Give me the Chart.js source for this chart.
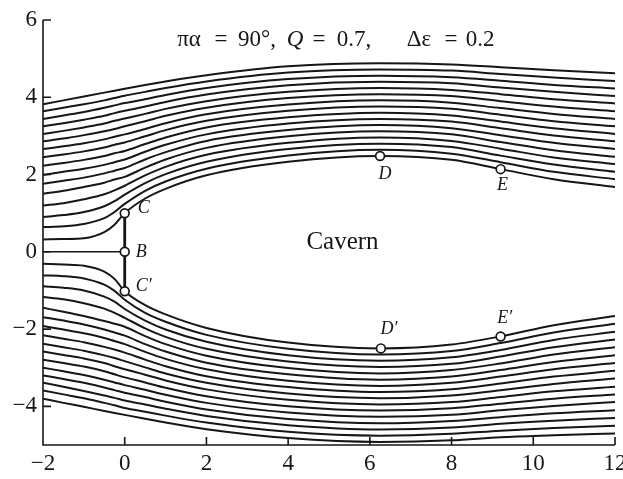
<!DOCTYPE html>
<html>
<head>
<meta charset="utf-8">
<script src="https://cdn.jsdelivr.net/npm/chart.js@4.4.1/dist/chart.umd.min.js"></script>
<style>
  html, body { margin: 0; padding: 0; background: #fff; }
  #wrap { width: 623px; height: 479px; position: relative; }
</style>
</head>
<body>
<div id="wrap"><canvas id="flowChart"></canvas></div>
<script>
// stations along the flow where each streamline's height was taken
const stations = [-2, -1.5, -1, -0.5, -0.25, 0, 0.5, 1, 2, 4, 6.25, 8, 9.2, 10.5, 12];

// heights of the 16 upper streamlines at each station (cavern boundary first)
const upperCuts = [
  [0.32, 0.64, 0.90, 1.20, 1.50, 1.76, 1.99, 2.23, 2.45, 2.66, 2.86, 3.05, 3.25, 3.44, 3.64, 3.82],
  [0.33, 0.66, 0.95, 1.26, 1.58, 1.84, 2.07, 2.30, 2.52, 2.73, 2.93, 3.13, 3.33, 3.53, 3.73, 3.92],
  [0.35, 0.72, 1.03, 1.36, 1.68, 1.92, 2.15, 2.38, 2.60, 2.81, 3.02, 3.22, 3.42, 3.62, 3.82, 4.02],
  [0.51, 0.87, 1.18, 1.49, 1.79, 2.03, 2.25, 2.48, 2.70, 2.91, 3.12, 3.32, 3.52, 3.73, 3.92, 4.12],
  [0.70, 1.03, 1.31, 1.59, 1.87, 2.10, 2.32, 2.55, 2.77, 2.98, 3.18, 3.39, 3.59, 3.79, 3.98, 4.17],
  [1.00, 1.24, 1.48, 1.71, 1.94, 2.17, 2.39, 2.61, 2.83, 3.04, 3.25, 3.45, 3.65, 3.85, 4.04, 4.22],
  [1.38, 1.58, 1.78, 1.98, 2.18, 2.39, 2.59, 2.79, 2.99, 3.18, 3.38, 3.57, 3.76, 3.95, 4.14, 4.32],
  [1.63, 1.82, 2.01, 2.20, 2.39, 2.58, 2.77, 2.96, 3.15, 3.33, 3.52, 3.70, 3.88, 4.06, 4.24, 4.41],
  [1.98, 2.15, 2.33, 2.51, 2.69, 2.87, 3.04, 3.22, 3.39, 3.56, 3.73, 3.90, 4.07, 4.24, 4.41, 4.57],
  [2.33, 2.49, 2.66, 2.82, 2.99, 3.15, 3.32, 3.48, 3.65, 3.81, 3.98, 4.14, 4.31, 4.47, 4.64, 4.80],
  [2.48, 2.64, 2.80, 2.96, 3.12, 3.28, 3.44, 3.60, 3.76, 3.92, 4.08, 4.24, 4.40, 4.56, 4.72, 4.88],
  [2.38, 2.54, 2.71, 2.87, 3.04, 3.20, 3.37, 3.53, 3.70, 3.86, 4.03, 4.19, 4.36, 4.52, 4.69, 4.85],
  [2.14, 2.32, 2.49, 2.67, 2.84, 3.02, 3.20, 3.37, 3.55, 3.72, 3.90, 4.08, 4.25, 4.43, 4.60, 4.78],
  [1.88, 2.07, 2.26, 2.44, 2.63, 2.82, 3.01, 3.20, 3.38, 3.57, 3.76, 3.95, 4.14, 4.32, 4.51, 4.70],
  [1.68, 1.88, 2.07, 2.27, 2.46, 2.66, 2.86, 3.05, 3.25, 3.44, 3.64, 3.84, 4.03, 4.23, 4.42, 4.62]
];

// heights of the 16 lower streamlines at each station (cavern boundary first)
const lowerCuts = [
  [-0.31, -0.61, -0.89, -1.17, -1.45, -1.69, -1.92, -2.16, -2.38, -2.58, -2.79, -3.00, -3.20, -3.39, -3.59, -3.80],
  [-0.33, -0.63, -0.93, -1.23, -1.55, -1.78, -2.01, -2.25, -2.47, -2.67, -2.88, -3.09, -3.29, -3.49, -3.69, -3.91],
  [-0.36, -0.69, -1.00, -1.33, -1.66, -1.88, -2.11, -2.34, -2.56, -2.76, -2.97, -3.19, -3.39, -3.60, -3.79, -4.01],
  [-0.51, -0.85, -1.16, -1.47, -1.79, -2.01, -2.23, -2.46, -2.68, -2.88, -3.09, -3.31, -3.51, -3.72, -3.91, -4.12],
  [-0.70, -1.01, -1.29, -1.58, -1.86, -2.09, -2.31, -2.53, -2.75, -2.96, -3.17, -3.38, -3.58, -3.78, -3.97, -4.17],
  [-1.02, -1.24, -1.48, -1.71, -1.94, -2.17, -2.39, -2.61, -2.83, -3.04, -3.25, -3.45, -3.65, -3.85, -4.04, -4.22],
  [-1.38, -1.58, -1.78, -1.98, -2.18, -2.39, -2.59, -2.79, -2.99, -3.18, -3.38, -3.57, -3.76, -3.95, -4.14, -4.32],
  [-1.62, -1.81, -2.01, -2.20, -2.39, -2.58, -2.77, -2.96, -3.15, -3.33, -3.52, -3.70, -3.88, -4.06, -4.24, -4.42],
  [-1.97, -2.15, -2.33, -2.51, -2.69, -2.87, -3.04, -3.22, -3.39, -3.56, -3.74, -3.91, -4.08, -4.25, -4.42, -4.59],
  [-2.35, -2.51, -2.68, -2.84, -3.01, -3.17, -3.34, -3.50, -3.67, -3.83, -4.00, -4.16, -4.33, -4.49, -4.66, -4.82],
  [-2.50, -2.66, -2.82, -2.98, -3.15, -3.31, -3.47, -3.63, -3.79, -3.95, -4.11, -4.27, -4.44, -4.60, -4.76, -4.92],
  [-2.40, -2.57, -2.73, -2.90, -3.06, -3.23, -3.39, -3.56, -3.72, -3.89, -4.05, -4.22, -4.38, -4.55, -4.71, -4.88],
  [-2.19, -2.36, -2.54, -2.71, -2.89, -3.06, -3.23, -3.41, -3.58, -3.76, -3.93, -4.10, -4.28, -4.45, -4.63, -4.80],
  [-1.90, -2.09, -2.28, -2.47, -2.66, -2.85, -3.04, -3.23, -3.42, -3.61, -3.80, -3.99, -4.18, -4.37, -4.56, -4.75],
  [-1.66, -1.86, -2.07, -2.27, -2.47, -2.68, -2.88, -3.08, -3.28, -3.49, -3.69, -3.89, -4.10, -4.30, -4.50, -4.70]
];

// dividing streamline up to B, and the plate C-C'
const axisLineX = [-2, 0];
const axisLineY = [0, 0];
const plateX = [0, 0];
const plateY = [1, -1];

// marked points
const pointNames = ["C", "B", "C\u2032", "D", "E", "D\u2032", "E\u2032"];
const pointX = [0, 0, 0, 6.25, 9.2, 6.27, 9.2];
const pointY = [1.0, 0, -1.02, 2.48, 2.14, -2.5, -2.19];

const xTicks = [-2, 0, 2, 4, 6, 8, 10, 12];
const yTicks = [-4, -2, 0, 2, 4, 6];

const INK = "#161616";
const SERIF = "'Liberation Serif', 'DejaVu Serif', serif";

function streamline(cuts, i) {
  return stations.map((x, k) => ({ x: x, y: cuts[k][i] }));
}

const lineStyle = {
  showLine: true,
  pointRadius: 0,
  borderColor: INK,
  borderWidth: 2,
  cubicInterpolationMode: "monotone",
  fill: false,
};

const datasets = [];

// points go first so they are drawn on top of the lines
datasets.push({
  data: pointX.map((x, i) => ({ x: x, y: pointY[i] })),
  showLine: false,
  pointRadius: 4.4,
  pointBackgroundColor: "#fff",
  pointBorderColor: INK,
  pointBorderWidth: 1.7,
});

datasets.push({
  data: plateX.map((x, i) => ({ x: x, y: plateY[i] })),
  showLine: true,
  pointRadius: 0,
  borderColor: INK,
  borderWidth: 2.8,
});

datasets.push({
  data: axisLineX.map((x, i) => ({ x: x, y: axisLineY[i] })),
  showLine: true,
  pointRadius: 0,
  borderColor: INK,
  borderWidth: 1.5,
});

for (let i = 0; i < 16; i++) {
  datasets.push(Object.assign({ data: streamline(upperCuts, i) }, lineStyle));
  datasets.push(Object.assign({ data: streamline(lowerCuts, i) }, lineStyle));
}

// axes with inward ticks, parameter line and point labels
const decorations = {
  id: "decorations",
  afterDatasetsDraw(chart) {
    const { ctx, chartArea, scales } = chart;
    const xs = scales.x;
    const ys = scales.y;
    const tick = 8;

    ctx.save();
    ctx.strokeStyle = INK;
    ctx.lineWidth = 1.6;
    ctx.beginPath();
    ctx.moveTo(chartArea.left, chartArea.top);
    ctx.lineTo(chartArea.left, chartArea.bottom);
    ctx.lineTo(chartArea.right, chartArea.bottom);
    xTicks.forEach((v) => {
      const px = xs.getPixelForValue(v);
      ctx.moveTo(px, chartArea.bottom);
      ctx.lineTo(px, chartArea.bottom - tick);
    });
    yTicks.forEach((v) => {
      const py = ys.getPixelForValue(v);
      ctx.moveTo(chartArea.left, py);
      ctx.lineTo(chartArea.left + tick, py);
    });
    ctx.stroke();

    ctx.fillStyle = INK;
    ctx.textBaseline = "middle";

    // point labels
    const offsets = [[13, -5], [11, 0], [11, -5], [5, 18], [2, 16], [8, -19], [4, -18]];
    const aligns = ["left", "left", "left", "center", "center", "center", "center"];
    ctx.font = "italic 18px " + SERIF;
    pointNames.forEach((name, i) => {
      const px = xs.getPixelForValue(pointX[i]);
      const py = ys.getPixelForValue(pointY[i]);
      ctx.textAlign = aligns[i];
      ctx.fillText(name, px + offsets[i][0], py + offsets[i][1]);
    });

    // cavern label
    ctx.font = "25px " + SERIF;
    ctx.textAlign = "center";
    ctx.fillText("Cavern", xs.getPixelForValue(5.33), ys.getPixelForValue(0.25));

    // parameter line, each piece centred on its own spot
    ctx.textAlign = "center";
    ctx.textBaseline = "alphabetic";
    const parts = [
      ["\u03c0\u03b1", false, 146],
      ["=", false, 178],
      ["90\u00b0,", false, 214],
      ["Q", true, 252],
      ["=", false, 276],
      ["0.7,", false, 311],
      ["\u0394\u03b5", false, 376],
      ["=", false, 408],
      ["0.2", false, 437],
    ];
    const base = chartArea.top + 26;
    parts.forEach(([text, italic, dx]) => {
      ctx.font = (italic ? "italic " : "") + "23px " + SERIF;
      ctx.fillText(text, chartArea.left + dx, base);
    });
    ctx.restore();
  },
};

new Chart(document.getElementById("flowChart"), {
  type: "scatter",
  data: { datasets: datasets },
  options: {
    responsive: true,
    maintainAspectRatio: false,
    animation: false,
    events: [],
    layout: { padding: { top: 20, right: 8, left: 0, bottom: 0 } },
    plugins: {
      legend: { display: false },
      title: { display: false },
      tooltip: { enabled: false },
    },
    scales: {
      x: {
        type: "linear",
        min: -2,
        max: 12,
        grid: { display: false, drawTicks: false },
        border: { display: false },
        afterBuildTicks: (scale) => { scale.ticks = xTicks.map((v) => ({ value: v })); },
        afterFit: (scale) => { scale.height = 34; scale.paddingLeft = 0; scale.paddingRight = 0; },
        ticks: {
          padding: 5,
          color: INK,
          font: { family: SERIF, size: 23 },
          maxRotation: 0,
          callback: (v) => String(v).replace("-", "\u2212"),
        },
      },
      y: {
        type: "linear",
        min: -5,
        max: 6,
        grid: { display: false, drawTicks: false },
        border: { display: false },
        afterBuildTicks: (scale) => { scale.ticks = yTicks.map((v) => ({ value: v })); },
        afterFit: (scale) => { scale.width = 43; },
        ticks: {
          padding: 6,
          color: INK,
          font: { family: SERIF, size: 23 },
          callback: (v) => String(v).replace("-", "\u2212"),
        },
      },
    },
  },
  plugins: [decorations],
});
</script>
</body>
</html>
